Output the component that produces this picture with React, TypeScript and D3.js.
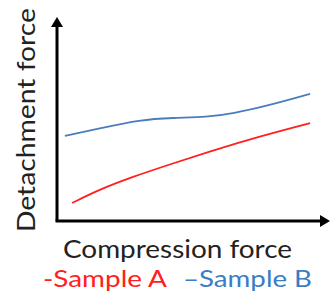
import React from 'react'
import * as d3 from 'd3'

// values (arbitrary units, 0-100)
const sampleAX = [5.5, 15.8, 27.8, 40.3, 57.1, 74, 92.7]
const sampleAY = [8.8, 15.6, 21.7, 27.3, 34.6, 41.4, 48]
const sampleBX = [2.9, 15.8, 30.4, 42.5, 54.9, 64.5, 76.9, 92.7]
const sampleBY = [41.7, 45.4, 49.6, 50.6, 50.9, 52.7, 56.4, 62.3]
const legendLabels = ['-Sample A', '\u2013Sample B']

const width = 336
const height = 295
const font = "Lato, 'Open Sans', sans-serif"

export default function App() {
  const x = d3.scaleLinear().domain([0, 100]).range([57, 330])
  const y = d3.scaleLinear().domain([0, 100]).range([221, 17])

  const line = d3
    .line<[number, number]>()
    .x((d) => x(d[0]))
    .y((d) => y(d[1]))
    .curve(d3.curveBasis)

  const a = sampleAX.map((v, i) => [v, sampleAY[i]] as [number, number])
  const b = sampleBX.map((v, i) => [v, sampleBY[i]] as [number, number])

  const x0 = x(0)
  const y0 = y(0)

  return (
    <svg
      width={width}
      height={height}
      style={{ position: 'absolute', left: 0, top: 0, background: '#fff' }}
    >
      {/* axes with arrow heads */}
      <line x1={x0} y1={y0} x2={x0} y2={y(100) + 8} stroke="#000" strokeWidth={3} />
      <path d={`M${x0 - 6},${y(100) + 10} L${x0},${y(100)} L${x0 + 6},${y(100) + 10} Z`} fill="#000" />
      <line x1={x0 - 1.5} y1={y0} x2={x(100) - 8} y2={y0} stroke="#000" strokeWidth={3} />
      <path d={`M${x(100) - 10},${y0 - 6} L${x(100)},${y0} L${x(100) - 10},${y0 + 6} Z`} fill="#000" />

      <path d={line(b) ?? ''} fill="none" stroke="#4a7ebb" strokeWidth={1.8} />
      <path d={line(a) ?? ''} fill="none" stroke="#ff2020" strokeWidth={1.8} />

      <text
        transform="translate(35,232) rotate(-90)"
        fontFamily={font}
        fontSize={25}
        fill="#222"
        textLength={224}
        lengthAdjust="spacingAndGlyphs"
      >
        Detachment force
      </text>
      <text
        x={63}
        y={258}
        fontFamily={font}
        fontSize={25}
        fill="#222"
        textLength={229}
        lengthAdjust="spacingAndGlyphs"
      >
        Compression force
      </text>
      <text x={43} y={287} fontFamily={font} fontSize={23} fill="#ff2020" textLength={124} lengthAdjust="spacingAndGlyphs">
        {legendLabels[0]}
      </text>
      <text x={183} y={287} fontFamily={font} fontSize={23} fill="#3a7dc4" textLength={129} lengthAdjust="spacingAndGlyphs">
        {legendLabels[1]}
      </text>
    </svg>
  )
}
